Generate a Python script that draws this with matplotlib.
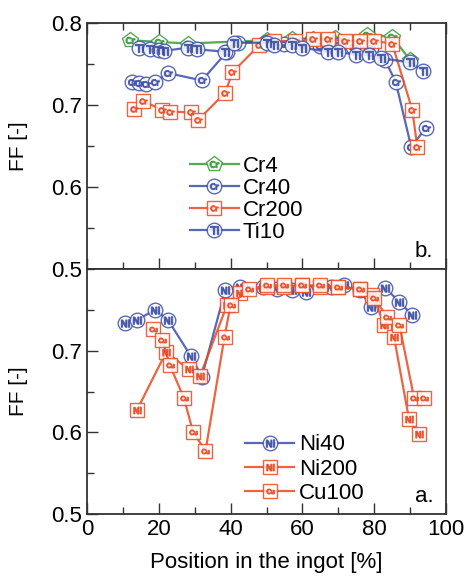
import matplotlib
matplotlib.use('Agg')
import matplotlib.pyplot as plt
from matplotlib.ticker import MultipleLocator

plt.rcParams['font.family'] = ['Liberation Sans', 'DejaVu Sans']

# panel b. (top)
cr4_x = [12, 20, 28, 50, 57, 63, 69, 78, 85, 90]
cr4_y = [0.779, 0.777, 0.775, 0.779, 0.780, 0.781, 0.782, 0.786, 0.783, 0.755]

cr40_x = [12.5, 14.5, 16.5, 19, 22.5, 32, 39, 42, 50, 55, 60, 65, 70, 74, 79, 83, 86, 90.3, 94.4]
cr40_y = [0.728, 0.727, 0.726, 0.728, 0.739, 0.730, 0.765, 0.776, 0.777, 0.774, 0.773, 0.772,
          0.773, 0.771, 0.770, 0.755, 0.728, 0.649, 0.672]

cr200_x = [13, 15.5, 21, 23, 29, 31, 38.5, 40.5, 48, 52, 58, 63, 67, 72, 76, 80, 85, 90.6, 92]
cr200_y = [0.695, 0.705, 0.694, 0.692, 0.691, 0.682, 0.715, 0.740, 0.773, 0.778, 0.778, 0.780,
           0.780, 0.778, 0.778, 0.778, 0.775, 0.694, 0.649]

ti10_x = [14.5, 17.5, 20, 21.5, 28, 30.5, 38.5, 41, 50, 52, 57, 60, 67, 70, 75, 78.5, 82, 90, 93.5]
ti10_y = [0.770, 0.768, 0.767, 0.766, 0.770, 0.768, 0.765, 0.776, 0.776, 0.773, 0.773, 0.770,
          0.765, 0.765, 0.761, 0.761, 0.757, 0.752, 0.742]

# panel a. (bottom)
ni40_x = [10.5, 14, 19, 22.5, 29, 32, 38.5, 42.5, 49, 53, 57, 61, 68, 71.5, 76, 79, 83, 87, 90.5]
ni40_y = [0.734, 0.738, 0.750, 0.738, 0.693, 0.668, 0.774, 0.778, 0.778, 0.776, 0.774, 0.772,
          0.778, 0.780, 0.774, 0.754, 0.777, 0.760, 0.744]

ni200_x = [14, 22, 28.5, 31.5, 39, 42.5, 50, 55, 60, 65, 70, 76, 79.5, 82.8, 85.5, 89.7, 92.5]
ni200_y = [0.628, 0.698, 0.677, 0.669, 0.756, 0.771, 0.778, 0.778, 0.780, 0.778, 0.778, 0.776,
           0.768, 0.732, 0.717, 0.616, 0.598]

cu100_x = [18.5, 21, 23, 27, 29.5, 33, 38.3, 40, 45, 50, 55, 60, 65, 70, 76, 80, 83.6, 87, 91.1, 93.9]
cu100_y = [0.726, 0.713, 0.683, 0.642, 0.601, 0.577, 0.717, 0.756, 0.775, 0.780, 0.780, 0.780,
           0.780, 0.778, 0.776, 0.765, 0.741, 0.732, 0.642, 0.642]

green = '#3a9a3a'
blue = '#3d4fa6'
orange = '#e84a22'


def series(ax, x, y, color, marker, text, label, ms=10.5):
    ln, = ax.plot(x, y, color=color, lw=1.6, marker=marker, ms=ms,
                  mfc=(1, 1, 1, 0.55), mec=color, mew=1.0, alpha=0.85)
    tx, = ax.plot(x, y, ls='none', marker=r'$\mathrm{%s}$' % text, ms=ms * 0.55,
                  color=color, alpha=0.85)
    return (ln, tx), label


def style(ax):
    ax.set_xlim(0, 100)
    ax.set_ylim(0.5, 0.8)
    ax.xaxis.set_major_locator(MultipleLocator(20))
    ax.xaxis.set_minor_locator(MultipleLocator(10))
    ax.yaxis.set_major_locator(MultipleLocator(0.1))
    ax.yaxis.set_minor_locator(MultipleLocator(0.05))
    ax.tick_params(which='both', direction='in', labelsize=16, color='#333333')
    ax.tick_params(which='major', length=8, width=1.0)
    ax.tick_params(which='minor', length=5, width=1.0)
    for s in ax.spines.values():
        s.set_linewidth(1.3)
        s.set_color('#333333')
    ax.set_ylabel('FF [-]', fontsize=15)
    ax.yaxis.set_label_coords(-0.165, 0.5)


fig = plt.figure(figsize=(4.69, 5.76), dpi=100)
ax_b = fig.add_axes([0.1855, 0.533, 0.7655, 0.427])
ax_a = fig.add_axes([0.1855, 0.1076, 0.7655, 0.4253])

h = []
h.append(series(ax_b, cr4_x, cr4_y, green, 'p', 'Cr', 'Cr4', ms=11.5))
h.append(series(ax_b, cr40_x, cr40_y, blue, 'o', 'Cr', 'Cr40'))
h.append(series(ax_b, cr200_x, cr200_y, orange, 's', 'Cr', 'Cr200', ms=9.5))
h.append(series(ax_b, ti10_x, ti10_y, blue, 'o', 'Ti', 'Ti10'))
style(ax_b)
ax_b.tick_params(axis='x', which='both', top=True, labelbottom=False)
ax_b.legend([a for a, b in h], [b for a, b in h], loc='upper left',
            bbox_to_anchor=(0.255, 0.505), frameon=False, fontsize=16,
            handlelength=2.2, handletextpad=0.2, labelspacing=0.05, borderpad=0)
ax_b.text(0.965, 0.03, 'b.', transform=ax_b.transAxes, ha='right', va='bottom', fontsize=16)

g = []
g.append(series(ax_a, ni40_x, ni40_y, blue, 'o', 'Ni', 'Ni40'))
g.append(series(ax_a, ni200_x, ni200_y, orange, 's', 'Ni', 'Ni200', ms=9.5))
g.append(series(ax_a, cu100_x, cu100_y, orange, 's', 'Cu', 'Cu100', ms=9.5))
style(ax_a)
ax_a.set_yticks([0.5, 0.6, 0.7])
ax_a.set_xlabel('Position in the ingot [%]', fontsize=16, labelpad=9)
ax_a.legend([a for a, b in g], [b for a, b in g], loc='upper left',
            bbox_to_anchor=(0.41, 0.37), frameon=False, fontsize=16,
            handlelength=2.2, handletextpad=0.2, labelspacing=0.15, borderpad=0)
ax_a.text(0.965, 0.03, 'a.', transform=ax_a.transAxes, ha='right', va='bottom', fontsize=16)

fig.savefig('out.png', dpi=100)
